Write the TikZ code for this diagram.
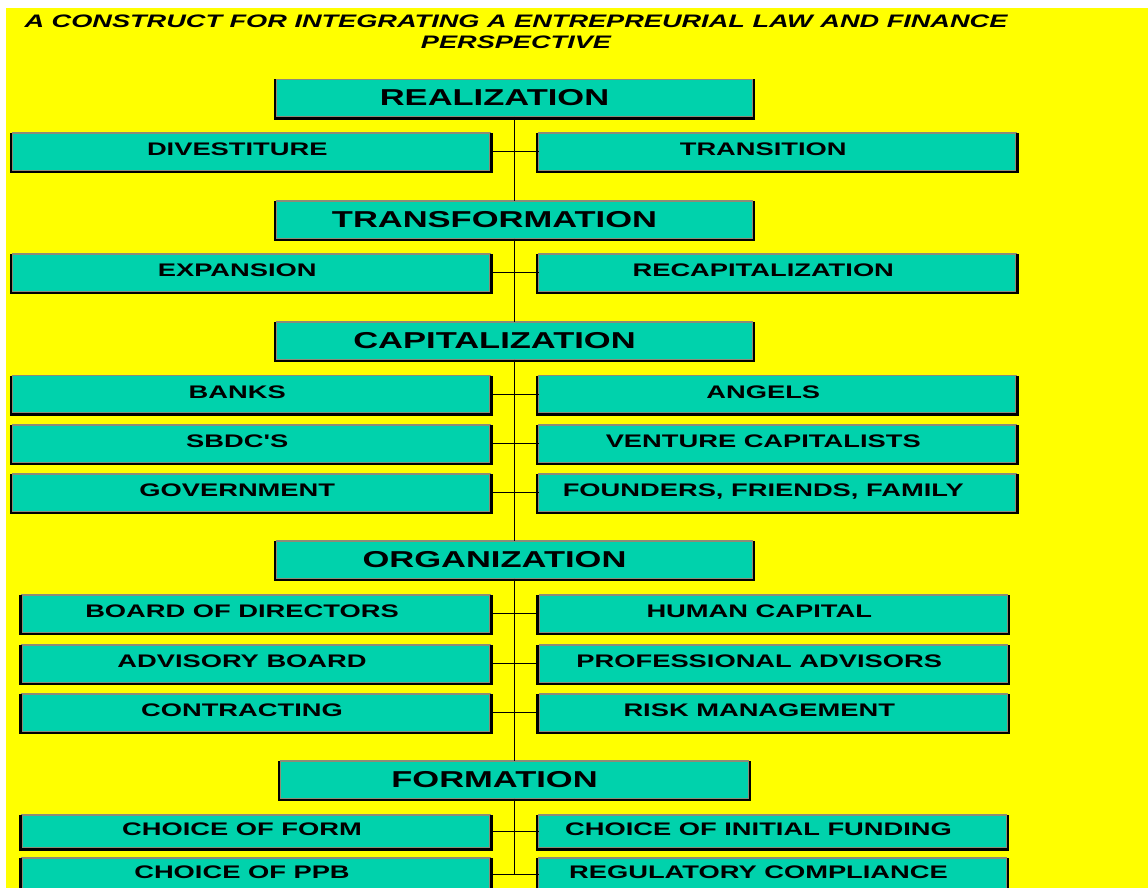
\documentclass[tikz,border=0pt]{standalone}
\usepackage{fontspec}
\usetikzlibrary{positioning}
\newfontfamily\chartfont[FakeStretch=1.5,WordSpace=1.5]{Liberation Sans}
\newfontfamily\titlefont[FakeStretch=1.5]{Liberation Sans}
\definecolor{sheet}{RGB}{255,255,0}
\definecolor{boxfill}{RGB}{0,210,172}
\definecolor{boxedge}{RGB}{140,140,120}
\tikzset{
  stage/.style={rectangle,draw=boxedge,fill=boxfill,line width=1.2pt,
    minimum width=476pt,minimum height=37.5pt,inner sep=0pt,outer sep=0pt,
    text height=16.5pt,text depth=1pt,
    font=\chartfont\bfseries\fontsize{23}{25}\selectfont,
    execute at end node={\hspace*{40pt}}},
  item/.style={rectangle,draw=boxedge,fill=boxfill,line width=1.2pt,
    minimum width=477.5pt,minimum height=37.5pt,inner sep=0pt,outer sep=0pt,
    text height=13pt,text depth=5pt,
    font=\chartfont\bfseries\fontsize{18.2}{20}\selectfont,
    execute at end node={\hspace*{28pt}}},
  narrow/.style={minimum width=468pt},
  link/.style={draw=black,line width=1.2pt},
  rimline/.style={draw=black,line width=2.6pt}
}
\begin{document}
\begin{tikzpicture}[x=1pt,y=-1pt]
  \useasboundingbox[fill=white] (0,0) rectangle (1148,888);
  \fill[sheet] (6,8) rectangle (1148,888);

  \node[anchor=north,inner sep=0pt,align=center,
    font=\titlefont\bfseries\itshape\fontsize{18.1}{21}\selectfont] (title) at (516,14.5)
    {A CONSTRUCT FOR INTEGRATING A ENTREPREURIAL LAW AND FINANCE\\PERSPECTIVE};

  % stages
  \node[stage] (real) at (514.5,98.25) {REALIZATION};
  \node[stage] (transf) at (514.5,219.75) {TRANSFORMATION};
  \node[stage] (capit) at (514.5,340.75) {CAPITALIZATION};
  \node[stage] (organ) at (514.5,559.75) {ORGANIZATION};
  \node[stage,minimum width=468pt] (form) at (514.5,779.75) {FORMATION};

  % realization
  \node[item] (divest) at (251.25,151.75) {DIVESTITURE};
  \node[item] (transit) at (777.25,151.75) {TRANSITION};
  % transformation
  \node[item] (expand) at (251.25,272.75) {EXPANSION};
  \node[item] (recap) at (777.25,272.75) {RECAPITALIZATION};
  % capitalization
  \node[item] (banks) at (251.25,394.25) {BANKS};
  \node[item] (angels) at (777.25,394.25) {ANGELS};
  \node[item] (sbdc) at (251.25,443.75) {SBDC'S};
  \node[item] (venture) at (777.25,443.75) {VENTURE CAPITALISTS};
  \node[item] (govt) at (251.25,492.75) {GOVERNMENT};
  \node[item] (founders) at (777.25,492.75) {FOUNDERS, FRIENDS, FAMILY};
  % organization
  \node[item,narrow] (board) at (256,613.75) {BOARD OF DIRECTORS};
  \node[item,narrow] (human) at (773.25,613.75) {HUMAN CAPITAL};
  \node[item,narrow] (advisory) at (256,663.75) {ADVISORY BOARD};
  \node[item,narrow] (advisors) at (773.25,663.75) {PROFESSIONAL ADVISORS};
  \node[item,narrow] (contract) at (256,712.75) {CONTRACTING};
  \node[item,narrow] (risk) at (773.25,712.75) {RISK MANAGEMENT};
  % formation
  \node[item,narrow,minimum height=33pt] (choice) at (256,831.5) {CHOICE OF FORM};
  \node[item,narrow,minimum height=33pt] (funding) at (772.5,831.5) {CHOICE OF INITIAL FUNDING};
  \node[item,narrow,minimum height=33pt] (ppb) at (256,874.5) {CHOICE OF PPB};
  \node[item,narrow,minimum height=33pt] (comply) at (772.5,874.5) {REGULATORY COMPLIANCE};

  % spine
  \coordinate (tail) at (514.5,874.5);
  \draw[link] (real) -- (transf);
  \draw[link] (transf) -- (capit);
  \draw[link] (capit) -- (organ);
  \draw[link] (organ) -- (form);
  \draw[link] (form.south) -- (tail);
  \foreach \a/\b in {divest/transit,expand/recap,banks/angels,sbdc/venture,
      govt/founders,board/human,advisory/advisors,contract/risk,
      choice/funding,ppb/comply}
    \draw[link] (\a.east) -- (\b.west);

  % dark edge on the sides and bottom of every box
  \foreach \n in {real,transf,capit,organ,form,divest,transit,expand,recap,
      banks,angels,sbdc,venture,govt,founders,board,human,advisory,advisors,
      contract,risk,choice,funding,ppb,comply}
    \draw[rimline] ([xshift=-1.6pt]\n.north west) |- ([yshift=-1.6pt]\n.south)
      -| ([xshift=1.6pt]\n.north east);
\end{tikzpicture}
\end{document}
